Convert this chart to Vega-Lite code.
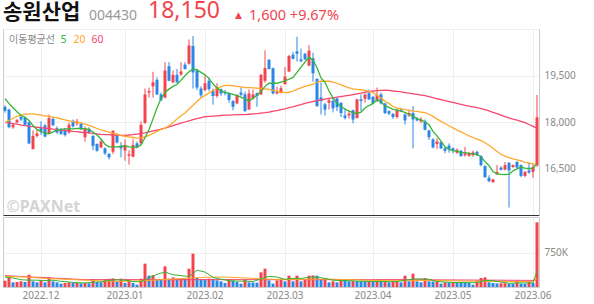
{
"$schema": "https://vega.github.io/schema/vega-lite/v6.json",
"padding": {"left": 1, "top": 0, "right": 0, "bottom": 0},
"background": "white",
"spacing": 0,
"config": {
  "view": {"stroke": null},
  "font": "Noto Sans",
  "title": {"anchor": "start", "offset": 0, "fontWeight": "normal", "baseline": "alphabetic"},
  "axis": {"labelFont": "Noto Sans", "labelColor": "#888888", "labelFontSize": 10, "gridColor": "#eeeeee", "ticks": false, "title": null}
},
"resolve": {"scale": {"color": "independent"}, "legend": {"color": "independent"}},
"datasets": {"p": [
{"d":"2022-11-18","o":18490,"h":18540,"l":18300,"c":18360,"v":140000,"vu":1,"m5":18750,"m20":17980,"m60":17990,"a5":220000,"a20":235000,"a60":250000},
{"d":"2022-11-21","o":18400,"h":18430,"l":17800,"c":17830,"v":213000,"vu":1,"m5":18600,"m20":18050,"m60":17970,"a5":210000,"a20":232000,"a60":246000},
{"d":"2022-11-22","o":17830,"h":17950,"l":17780,"c":17910,"v":103000,"vu":0,"m5":18460,"m20":18120,"m60":17950,"a5":200000,"a20":229000,"a60":241000},
{"d":"2022-11-23","o":17990,"h":18100,"l":17960,"c":18060,"v":110000,"vu":1,"m5":18330,"m20":18180,"m60":17930,"a5":180000,"a20":226000,"a60":237000},
{"d":"2022-11-24","o":18160,"h":18200,"l":18030,"c":18080,"v":125000,"vu":1,"m5":18210,"m20":18220,"m60":17900,"a5":160000,"a20":223000,"a60":232000},
{"d":"2022-11-25","o":18130,"h":18180,"l":17870,"c":17910,"v":110000,"vu":0,"m5":18150,"m20":18250,"m60":17880,"a5":155000,"a20":220000,"a60":228000},
{"d":"2022-11-28","o":17990,"h":18020,"l":17290,"c":17310,"v":272000,"vu":1,"m5":18050,"m20":18260,"m60":17860,"a5":150000,"a20":214000,"a60":224000},
{"d":"2022-11-29","o":17130,"h":17730,"l":17110,"c":17550,"v":125000,"vu":0,"m5":17880,"m20":18260,"m60":17850,"a5":150000,"a20":208000,"a60":219000},
{"d":"2022-11-30","o":17550,"h":17750,"l":17500,"c":17630,"v":103000,"vu":0,"m5":17760,"m20":18240,"m60":17830,"a5":150000,"a20":202000,"a60":215000},
{"d":"2022-12-01","o":17800,"h":18020,"l":17580,"c":17700,"v":140000,"vu":1,"m5":17690,"m20":18220,"m60":17820,"a5":145000,"a20":196000,"a60":211000},
{"d":"2022-12-02","o":17890,"h":17930,"l":17510,"c":17530,"v":103000,"vu":0,"m5":17640,"m20":18200,"m60":17800,"a5":140000,"a20":190000,"a60":206000},
{"d":"2022-12-05","o":17620,"h":18240,"l":17620,"c":18130,"v":213000,"vu":1,"m5":17620,"m20":18180,"m60":17790,"a5":145000,"a20":186000,"a60":202000},
{"d":"2022-12-06","o":18100,"h":18160,"l":17860,"c":17900,"v":125000,"vu":0,"m5":17680,"m20":18160,"m60":17770,"a5":150000,"a20":182000,"a60":197000},
{"d":"2022-12-07","o":17800,"h":17860,"l":17620,"c":17660,"v":103000,"vu":0,"m5":17740,"m20":18130,"m60":17760,"a5":138000,"a20":178000,"a60":193000},
{"d":"2022-12-08","o":17750,"h":17800,"l":17580,"c":17620,"v":74000,"vu":0,"m5":17760,"m20":18100,"m60":17740,"a5":125000,"a20":174000,"a60":189000},
{"d":"2022-12-09","o":17740,"h":17810,"l":17530,"c":17580,"v":88000,"vu":1,"m5":17780,"m20":18070,"m60":17730,"a5":118000,"a20":170000,"a60":184000},
{"d":"2022-12-12","o":17660,"h":17970,"l":17620,"c":17910,"v":103000,"vu":1,"m5":17780,"m20":18040,"m60":17720,"a5":110000,"a20":166000,"a60":180000},
{"d":"2022-12-13","o":18040,"h":18080,"l":17820,"c":17860,"v":88000,"vu":0,"m5":17780,"m20":18010,"m60":17700,"a5":102000,"a20":162000,"a60":175000},
{"d":"2022-12-14","o":17950,"h":18100,"l":17880,"c":18020,"v":95000,"vu":1,"m5":17790,"m20":17990,"m60":17690,"a5":95000,"a20":158000,"a60":171000},
{"d":"2022-12-15","o":17940,"h":17980,"l":17740,"c":17770,"v":81000,"vu":0,"m5":17790,"m20":17970,"m60":17670,"a5":92000,"a20":154000,"a60":166000},
{"d":"2022-12-16","o":17510,"h":17860,"l":17370,"c":17800,"v":88000,"vu":1,"m5":17780,"m20":17930,"m60":17660,"a5":90000,"a20":150000,"a60":162000},
{"d":"2022-12-19","o":17780,"h":17830,"l":17620,"c":17660,"v":81000,"vu":0,"m5":17760,"m20":17890,"m60":17650,"a5":98000,"a20":146000,"a60":162000},
{"d":"2022-12-20","o":17550,"h":17590,"l":17090,"c":17230,"v":176000,"vu":1,"m5":17680,"m20":17840,"m60":17630,"a5":105000,"a20":142000,"a60":162000},
{"d":"2022-12-21","o":17290,"h":17310,"l":17040,"c":17070,"v":110000,"vu":0,"m5":17580,"m20":17790,"m60":17620,"a5":110000,"a20":138000,"a60":162000},
{"d":"2022-12-22","o":17180,"h":17420,"l":17150,"c":17370,"v":103000,"vu":0,"m5":17450,"m20":17750,"m60":17600,"a5":115000,"a20":134000,"a60":162000},
{"d":"2022-12-23","o":17150,"h":17180,"l":16930,"c":16990,"v":170000,"vu":1,"m5":17280,"m20":17710,"m60":17590,"a5":130000,"a20":130000,"a60":162000},
{"d":"2022-12-26","o":16970,"h":17000,"l":16790,"c":16860,"v":180000,"vu":1,"m5":17200,"m20":17670,"m60":17590,"a5":145000,"a20":129000,"a60":162000},
{"d":"2022-12-27","o":17040,"h":17720,"l":16960,"c":17720,"v":190000,"vu":1,"m5":17200,"m20":17630,"m60":17580,"a5":152000,"a20":128000,"a60":162000},
{"d":"2022-12-28","o":17610,"h":17640,"l":17310,"c":17340,"v":125000,"vu":0,"m5":17200,"m20":17600,"m60":17580,"a5":160000,"a20":127000,"a60":162000},
{"d":"2022-12-29","o":17240,"h":17350,"l":16860,"c":17150,"v":184000,"vu":1,"m5":17210,"m20":17560,"m60":17570,"a5":155000,"a20":126000,"a60":162000},
{"d":"2023-01-02","o":17080,"h":17440,"l":16750,"c":17260,"v":88000,"vu":0,"m5":17230,"m20":17540,"m60":17570,"a5":150000,"a20":125000,"a60":162000},
{"d":"2023-01-03","o":16910,"h":17090,"l":16630,"c":16960,"v":162000,"vu":1,"m5":17200,"m20":17520,"m60":17580,"a5":135000,"a20":128000,"a60":162000},
{"d":"2023-01-04","o":16880,"h":17440,"l":16860,"c":17260,"v":88000,"vu":0,"m5":17190,"m20":17500,"m60":17590,"a5":120000,"a20":131000,"a60":162000},
{"d":"2023-01-05","o":17310,"h":17370,"l":17150,"c":17180,"v":51000,"vu":0,"m5":17190,"m20":17480,"m60":17610,"a5":118000,"a20":134000,"a60":162000},
{"d":"2023-01-06","o":17310,"h":18020,"l":17260,"c":17910,"v":184000,"vu":1,"m5":17260,"m20":17490,"m60":17630,"a5":115000,"a20":137000,"a60":162000},
{"d":"2023-01-09","o":17970,"h":19080,"l":17940,"c":18890,"v":515000,"vu":1,"m5":17500,"m20":17520,"m60":17650,"a5":158000,"a20":140000,"a60":162000},
{"d":"2023-01-10","o":18950,"h":19110,"l":18790,"c":19000,"v":250000,"vu":0,"m5":17750,"m20":17570,"m60":17680,"a5":200000,"a20":145000,"a60":162000},
{"d":"2023-01-11","o":19150,"h":19620,"l":18790,"c":19280,"v":260000,"vu":1,"m5":18100,"m20":17630,"m60":17710,"a5":240000,"a20":150000,"a60":162000},
{"d":"2023-01-12","o":19360,"h":19440,"l":18870,"c":18890,"v":162000,"vu":0,"m5":18450,"m20":17700,"m60":17740,"a5":280000,"a20":155000,"a60":162000},
{"d":"2023-01-13","o":18890,"h":18950,"l":18680,"c":18700,"v":155000,"vu":0,"m5":18750,"m20":17760,"m60":17770,"a5":305000,"a20":160000,"a60":162000},
{"d":"2023-01-16","o":18790,"h":19930,"l":18760,"c":19660,"v":456000,"vu":1,"m5":18950,"m20":17800,"m60":17800,"a5":330000,"a20":165000,"a60":162000},
{"d":"2023-01-17","o":19800,"h":19930,"l":19310,"c":19330,"v":184000,"vu":0,"m5":19060,"m20":17880,"m60":17840,"a5":300000,"a20":170000,"a60":162000},
{"d":"2023-01-18","o":19280,"h":19660,"l":19250,"c":19520,"v":213000,"vu":1,"m5":19150,"m20":17980,"m60":17880,"a5":270000,"a20":175000,"a60":162000},
{"d":"2023-01-19","o":19520,"h":19710,"l":19250,"c":19280,"v":184000,"vu":0,"m5":19210,"m20":18100,"m60":17920,"a5":260000,"a20":180000,"a60":162000},
{"d":"2023-01-20","o":19530,"h":19930,"l":19490,"c":19630,"v":190000,"vu":1,"m5":19350,"m20":18200,"m60":17960,"a5":250000,"a20":185000,"a60":162000},
{"d":"2023-01-25","o":19850,"h":19930,"l":19690,"c":19710,"v":184000,"vu":0,"m5":19490,"m20":18290,"m60":18000,"a5":240000,"a20":190000,"a60":162000},
{"d":"2023-01-26","o":19880,"h":20660,"l":19850,"c":20470,"v":404000,"vu":1,"m5":19620,"m20":18420,"m60":18040,"a5":230000,"a20":195000,"a60":162000},
{"d":"2023-01-27","o":20450,"h":20770,"l":19080,"c":19600,"v":735000,"vu":1,"m5":19710,"m20":18540,"m60":18080,"a5":300000,"a20":200000,"a60":162000},
{"d":"2023-01-30","o":19660,"h":19720,"l":19030,"c":19110,"v":199000,"vu":0,"m5":19680,"m20":18660,"m60":18110,"a5":370000,"a20":205000,"a60":162000},
{"d":"2023-01-31","o":19080,"h":19150,"l":18780,"c":18860,"v":176000,"vu":0,"m5":19600,"m20":18780,"m60":18140,"a5":350000,"a20":210000,"a60":162000},
{"d":"2023-02-01","o":19030,"h":19490,"l":18990,"c":19250,"v":170000,"vu":0,"m5":19520,"m20":18860,"m60":18170,"a5":330000,"a20":215000,"a60":162000},
{"d":"2023-02-02","o":19330,"h":19440,"l":19000,"c":19060,"v":185000,"vu":1,"m5":19400,"m20":18940,"m60":18180,"a5":272000,"a20":216000,"a60":162000},
{"d":"2023-02-03","o":19000,"h":19080,"l":18560,"c":18840,"v":180000,"vu":0,"m5":19230,"m20":19010,"m60":18190,"a5":215000,"a20":217000,"a60":162000},
{"d":"2023-02-06","o":18840,"h":19250,"l":18780,"c":19110,"v":147000,"vu":0,"m5":19100,"m20":19080,"m60":18200,"a5":192000,"a20":218000,"a60":162000},
{"d":"2023-02-07","o":19060,"h":19080,"l":18840,"c":18920,"v":125000,"vu":0,"m5":19010,"m20":19140,"m60":18210,"a5":170000,"a20":219000,"a60":162000},
{"d":"2023-02-08","o":18970,"h":19030,"l":18860,"c":18920,"v":88000,"vu":0,"m5":18960,"m20":19180,"m60":18220,"a5":155000,"a20":220000,"a60":162000},
{"d":"2023-02-09","o":18920,"h":18960,"l":18620,"c":18710,"v":176000,"vu":1,"m5":18920,"m20":19180,"m60":18225,"a5":140000,"a20":216000,"a60":162000},
{"d":"2023-02-10","o":18680,"h":18700,"l":18380,"c":18490,"v":140000,"vu":0,"m5":18890,"m20":19170,"m60":18230,"a5":135000,"a20":212000,"a60":162000},
{"d":"2023-02-13","o":18600,"h":18900,"l":18570,"c":18870,"v":110000,"vu":0,"m5":18850,"m20":19150,"m60":18235,"a5":130000,"a20":208000,"a60":162000},
{"d":"2023-02-14","o":18950,"h":19110,"l":18840,"c":18880,"v":74000,"vu":0,"m5":18800,"m20":19130,"m60":18240,"a5":130000,"a20":204000,"a60":162000},
{"d":"2023-02-15","o":18890,"h":18980,"l":18330,"c":18350,"v":162000,"vu":1,"m5":18740,"m20":19110,"m60":18240,"a5":130000,"a20":200000,"a60":162000},
{"d":"2023-02-16","o":18400,"h":19050,"l":18400,"c":18920,"v":103000,"vu":0,"m5":18680,"m20":19110,"m60":18250,"a5":125000,"a20":195000,"a60":162000},
{"d":"2023-02-17","o":18760,"h":19050,"l":18730,"c":18890,"v":100000,"vu":0,"m5":18760,"m20":19100,"m60":18260,"a5":120000,"a20":190000,"a60":162000},
{"d":"2023-02-20","o":18930,"h":18950,"l":18490,"c":18840,"v":95000,"vu":0,"m5":18860,"m20":19090,"m60":18270,"a5":150000,"a20":185000,"a60":162000},
{"d":"2023-02-21","o":18890,"h":19550,"l":18870,"c":19520,"v":324000,"vu":1,"m5":18990,"m20":19080,"m60":18285,"a5":180000,"a20":180000,"a60":162000},
{"d":"2023-02-22","o":19330,"h":20310,"l":19270,"c":19740,"v":404000,"vu":1,"m5":19150,"m20":19070,"m60":18300,"a5":208000,"a20":175000,"a60":162000},
{"d":"2023-02-23","o":20010,"h":20020,"l":19690,"c":19710,"v":147000,"vu":0,"m5":19250,"m20":19050,"m60":18320,"a5":235000,"a20":173000,"a60":162000},
{"d":"2023-02-24","o":19730,"h":19760,"l":18890,"c":18920,"v":74000,"vu":0,"m5":19250,"m20":19020,"m60":18350,"a5":228000,"a20":171000,"a60":162000},
{"d":"2023-02-27","o":18920,"h":19140,"l":18890,"c":18980,"v":147000,"vu":1,"m5":19250,"m20":18990,"m60":18370,"a5":220000,"a20":169000,"a60":162000},
{"d":"2023-02-28","o":18950,"h":19170,"l":18920,"c":19090,"v":184000,"vu":1,"m5":19290,"m20":18960,"m60":18400,"a5":195000,"a20":167000,"a60":162000},
{"d":"2023-03-02","o":19220,"h":19770,"l":19200,"c":19460,"v":125000,"vu":0,"m5":19330,"m20":18950,"m60":18420,"a5":170000,"a20":165000,"a60":162000},
{"d":"2023-03-03","o":19630,"h":20170,"l":19610,"c":20130,"v":250000,"vu":1,"m5":19380,"m20":18960,"m60":18460,"a5":180000,"a20":166000,"a60":162000},
{"d":"2023-03-06","o":20170,"h":20260,"l":20020,"c":20040,"v":125000,"vu":0,"m5":19440,"m20":19000,"m60":18490,"a5":190000,"a20":167000,"a60":162000},
{"d":"2023-03-07","o":20280,"h":20750,"l":19950,"c":20200,"v":250000,"vu":1,"m5":19600,"m20":19050,"m60":18530,"a5":190000,"a20":168000,"a60":162000},
{"d":"2023-03-08","o":20020,"h":20370,"l":19930,"c":19960,"v":125000,"vu":0,"m5":19770,"m20":19100,"m60":18560,"a5":190000,"a20":169000,"a60":162000},
{"d":"2023-03-09","o":20200,"h":20230,"l":19990,"c":20020,"v":176000,"vu":1,"m5":19930,"m20":19150,"m60":18600,"a5":202000,"a20":170000,"a60":162000},
{"d":"2023-03-10","o":19820,"h":20480,"l":19800,"c":20300,"v":250000,"vu":1,"m5":20090,"m20":19180,"m60":18630,"a5":215000,"a20":171000,"a60":162000},
{"d":"2023-03-13","o":20060,"h":20230,"l":19300,"c":19570,"v":255000,"vu":1,"m5":20000,"m20":19210,"m60":18660,"a5":218000,"a20":172000,"a60":162000},
{"d":"2023-03-14","o":19390,"h":19410,"l":18490,"c":18510,"v":250000,"vu":0,"m5":19750,"m20":19290,"m60":18690,"a5":220000,"a20":173000,"a60":162000},
{"d":"2023-03-15","o":18790,"h":19280,"l":18240,"c":18680,"v":176000,"vu":0,"m5":19420,"m20":19315,"m60":18710,"a5":205000,"a20":174000,"a60":162000},
{"d":"2023-03-16","o":18570,"h":18620,"l":18210,"c":18400,"v":180000,"vu":1,"m5":19280,"m20":19320,"m60":18740,"a5":190000,"a20":175000,"a60":162000},
{"d":"2023-03-17","o":18620,"h":18780,"l":18400,"c":18700,"v":103000,"vu":0,"m5":19000,"m20":19315,"m60":18760,"a5":170000,"a20":173000,"a60":162000},
{"d":"2023-03-20","o":18680,"h":18780,"l":18310,"c":18440,"v":125000,"vu":1,"m5":18780,"m20":19290,"m60":18780,"a5":150000,"a20":171000,"a60":162000},
{"d":"2023-03-21","o":18760,"h":18780,"l":18350,"c":18480,"v":103000,"vu":0,"m5":18600,"m20":19250,"m60":18800,"a5":145000,"a20":169000,"a60":162000},
{"d":"2023-03-22","o":18620,"h":18640,"l":18160,"c":18290,"v":162000,"vu":1,"m5":18500,"m20":19200,"m60":18820,"a5":140000,"a20":167000,"a60":162000},
{"d":"2023-03-23","o":18210,"h":18440,"l":18080,"c":18130,"v":155000,"vu":0,"m5":18420,"m20":19150,"m60":18840,"a5":140000,"a20":165000,"a60":162000},
{"d":"2023-03-24","o":18210,"h":18370,"l":18110,"c":18270,"v":125000,"vu":0,"m5":18350,"m20":19100,"m60":18860,"a5":140000,"a20":162000,"a60":162000},
{"d":"2023-03-27","o":18380,"h":18400,"l":17960,"c":18080,"v":130000,"vu":1,"m5":18300,"m20":19070,"m60":18880,"a5":134000,"a20":159000,"a60":162000},
{"d":"2023-03-28","o":18130,"h":18750,"l":18110,"c":18730,"v":128000,"vu":0,"m5":18270,"m20":19050,"m60":18910,"a5":128000,"a20":156000,"a60":162000},
{"d":"2023-03-29","o":18730,"h":18890,"l":18360,"c":18680,"v":125000,"vu":0,"m5":18320,"m20":19040,"m60":18930,"a5":126000,"a20":153000,"a60":162000},
{"d":"2023-03-30","o":18750,"h":18920,"l":18620,"c":18890,"v":122000,"vu":0,"m5":18450,"m20":19020,"m60":18960,"a5":125000,"a20":150000,"a60":162000},
{"d":"2023-03-31","o":18930,"h":19050,"l":18710,"c":18730,"v":125000,"vu":1,"m5":18530,"m20":18990,"m60":18980,"a5":124000,"a20":148000,"a60":162000},
{"d":"2023-04-03","o":18810,"h":18840,"l":18570,"c":18600,"v":120000,"vu":0,"m5":18600,"m20":18950,"m60":19000,"a5":122000,"a20":146000,"a60":162000},
{"d":"2023-04-04","o":18680,"h":19110,"l":18640,"c":18870,"v":125000,"vu":1,"m5":18720,"m20":18860,"m60":19010,"a5":122000,"a20":144000,"a60":162000},
{"d":"2023-04-05","o":18890,"h":18950,"l":18570,"c":18600,"v":118000,"vu":0,"m5":18650,"m20":18770,"m60":19020,"a5":122000,"a20":142000,"a60":162000},
{"d":"2023-04-06","o":18600,"h":18620,"l":18260,"c":18290,"v":125000,"vu":1,"m5":18520,"m20":18670,"m60":19030,"a5":120000,"a20":140000,"a60":162000},
{"d":"2023-04-07","o":18350,"h":18380,"l":18220,"c":18270,"v":103000,"vu":0,"m5":18470,"m20":18600,"m60":19020,"a5":118000,"a20":140000,"a60":162000},
{"d":"2023-04-10","o":18260,"h":18290,"l":18100,"c":18160,"v":125000,"vu":1,"m5":18410,"m20":18500,"m60":19000,"a5":119000,"a20":140000,"a60":162000},
{"d":"2023-04-11","o":18160,"h":18430,"l":18110,"c":18380,"v":130000,"vu":1,"m5":18380,"m20":18450,"m60":18990,"a5":120000,"a20":140000,"a60":162000},
{"d":"2023-04-12","o":18400,"h":18460,"l":18330,"c":18350,"v":103000,"vu":0,"m5":18350,"m20":18420,"m60":18970,"a5":135000,"a20":140000,"a60":162000},
{"d":"2023-04-13","o":18240,"h":18290,"l":17920,"c":18050,"v":250000,"vu":1,"m5":18310,"m20":18400,"m60":18950,"a5":150000,"a20":140000,"a60":162000},
{"d":"2023-04-14","o":18210,"h":18370,"l":18160,"c":18290,"v":125000,"vu":0,"m5":18250,"m20":18380,"m60":18930,"a5":162000,"a20":141000,"a60":161000},
{"d":"2023-04-17","o":18290,"h":18510,"l":17150,"c":18080,"v":294000,"vu":1,"m5":18190,"m20":18350,"m60":18910,"a5":175000,"a20":142000,"a60":161000},
{"d":"2023-04-18","o":18100,"h":18160,"l":18020,"c":18050,"v":125000,"vu":0,"m5":18110,"m20":18340,"m60":18890,"a5":178000,"a20":143000,"a60":160000},
{"d":"2023-04-19","o":18020,"h":18160,"l":17960,"c":18080,"v":103000,"vu":0,"m5":18070,"m20":18320,"m60":18870,"a5":180000,"a20":144000,"a60":160000},
{"d":"2023-04-20","o":18020,"h":18080,"l":17730,"c":17750,"v":199000,"vu":1,"m5":18000,"m20":18300,"m60":18850,"a5":175000,"a20":145000,"a60":159000},
{"d":"2023-04-21","o":17730,"h":17750,"l":17420,"c":17510,"v":125000,"vu":0,"m5":17910,"m20":18250,"m60":18820,"a5":170000,"a20":144000,"a60":159000},
{"d":"2023-04-24","o":17440,"h":17480,"l":17150,"c":17180,"v":120000,"vu":0,"m5":17700,"m20":18180,"m60":18790,"a5":145000,"a20":143000,"a60":158000},
{"d":"2023-04-25","o":17290,"h":17480,"l":17130,"c":17370,"v":125000,"vu":1,"m5":17550,"m20":18100,"m60":18750,"a5":120000,"a20":142000,"a60":158000},
{"d":"2023-04-26","o":17350,"h":17370,"l":17130,"c":17150,"v":74000,"vu":0,"m5":17380,"m20":18020,"m60":18720,"a5":115000,"a20":141000,"a60":157000},
{"d":"2023-04-27","o":17150,"h":17200,"l":16990,"c":17070,"v":103000,"vu":1,"m5":17200,"m20":17950,"m60":18690,"a5":110000,"a20":140000,"a60":157000},
{"d":"2023-04-28","o":17240,"h":17310,"l":17010,"c":17130,"v":100000,"vu":0,"m5":17120,"m20":17880,"m60":18660,"a5":105000,"a20":138000,"a60":156000},
{"d":"2023-05-02","o":17150,"h":17180,"l":16990,"c":17070,"v":105000,"vu":1,"m5":17080,"m20":17810,"m60":18630,"a5":100000,"a20":136000,"a60":156000},
{"d":"2023-05-03","o":17010,"h":17150,"l":16970,"c":17100,"v":100000,"vu":0,"m5":17050,"m20":17740,"m60":18600,"a5":100000,"a20":134000,"a60":155000},
{"d":"2023-05-04","o":17070,"h":17100,"l":16880,"c":16900,"v":98000,"vu":0,"m5":17020,"m20":17680,"m60":18570,"a5":100000,"a20":132000,"a60":155000},
{"d":"2023-05-08","o":16930,"h":17200,"l":16880,"c":16990,"v":96000,"vu":0,"m5":17010,"m20":17620,"m60":18540,"a5":98000,"a20":130000,"a60":154000},
{"d":"2023-05-09","o":16910,"h":17040,"l":16880,"c":16990,"v":88000,"vu":0,"m5":16990,"m20":17550,"m60":18510,"a5":95000,"a20":129000,"a60":154000},
{"d":"2023-05-10","o":16930,"h":17080,"l":16880,"c":17020,"v":51000,"vu":0,"m5":16970,"m20":17500,"m60":18490,"a5":95000,"a20":128000,"a60":153000},
{"d":"2023-05-11","o":17040,"h":17070,"l":16900,"c":16930,"v":140000,"vu":1,"m5":16950,"m20":17450,"m60":18460,"a5":95000,"a20":127000,"a60":153000},
{"d":"2023-05-12","o":16900,"h":16930,"l":16570,"c":16610,"v":199000,"vu":1,"m5":16880,"m20":17400,"m60":18430,"a5":118000,"a20":126000,"a60":152000},
{"d":"2023-05-15","o":16580,"h":16600,"l":16200,"c":16220,"v":213000,"vu":1,"m5":16720,"m20":17330,"m60":18400,"a5":140000,"a20":125000,"a60":152000},
{"d":"2023-05-16","o":16200,"h":16280,"l":16060,"c":16090,"v":103000,"vu":0,"m5":16600,"m20":17250,"m60":18360,"a5":140000,"a20":124000,"a60":151000},
{"d":"2023-05-17","o":16060,"h":16170,"l":16040,"c":16150,"v":88000,"vu":0,"m5":16400,"m20":17150,"m60":18310,"a5":140000,"a20":123000,"a60":151000},
{"d":"2023-05-18","o":16310,"h":16610,"l":16310,"c":16390,"v":80000,"vu":0,"m5":16330,"m20":17050,"m60":18270,"a5":125000,"a20":122000,"a60":150000},
{"d":"2023-05-19","o":16530,"h":16570,"l":16440,"c":16460,"v":82000,"vu":1,"m5":16310,"m20":16960,"m60":18220,"a5":110000,"a20":121000,"a60":150000},
{"d":"2023-05-22","o":16470,"h":16710,"l":16440,"c":16610,"v":84000,"vu":1,"m5":16300,"m20":16900,"m60":18170,"a5":96000,"a20":120000,"a60":149000},
{"d":"2023-05-23","o":16680,"h":16710,"l":15240,"c":16440,"v":74000,"vu":0,"m5":16320,"m20":16850,"m60":18130,"a5":82000,"a20":120000,"a60":149000},
{"d":"2023-05-24","o":16550,"h":16630,"l":16520,"c":16610,"v":72000,"vu":0,"m5":16420,"m20":16810,"m60":18090,"a5":86000,"a20":120000,"a60":148000},
{"d":"2023-05-25","o":16710,"h":16740,"l":16510,"c":16530,"v":140000,"vu":1,"m5":16490,"m20":16780,"m60":18060,"a5":90000,"a20":120000,"a60":148000},
{"d":"2023-05-26","o":16610,"h":16630,"l":16220,"c":16260,"v":74000,"vu":0,"m5":16540,"m20":16750,"m60":18020,"a5":90000,"a20":120000,"a60":147000},
{"d":"2023-05-30","o":16260,"h":16420,"l":16220,"c":16390,"v":72000,"vu":0,"m5":16510,"m20":16700,"m60":17980,"a5":90000,"a20":120000,"a60":147000},
{"d":"2023-05-31","o":16440,"h":16700,"l":16330,"c":16370,"v":118000,"vu":1,"m5":16500,"m20":16670,"m60":17920,"a5":90000,"a20":120000,"a60":146000},
{"d":"2023-06-01","o":16390,"h":16640,"l":16200,"c":16550,"v":88000,"vu":0,"m5":16510,"m20":16650,"m60":17860,"a5":90000,"a20":120000,"a60":146000},
{"d":"2023-06-02","o":16600,"h":18870,"l":16550,"c":18150,"v":1426000,"vu":1,"m5":16660,"m20":16640,"m60":17800,"a5":356000,"a20":190000,"a60":168000}
]},
"vconcat": [
  {
    "hconcat": [
      {
        "hconcat": [
          {"title": {"text": "송원산업", "font": "Noto Sans CJK KR", "fontSize": 21, "fontWeight": "bold", "color": "#111111", "dy": 17}, "width": 1, "height": 18, "data": {"values": []}, "mark": "text"},
          {"title": {"text": "004430", "font": "Noto Sans", "fontSize": 14, "color": "#999999", "dy": 17}, "width": 1, "height": 18, "data": {"values": []}, "mark": "text"}
        ],
        "spacing": 8
      },
      {
        "hconcat": [
          {"title": {"text": "18,150", "font": "Noto Sans", "fontSize": 23, "color": "#f2444e", "dy": 17}, "width": 1, "height": 18, "data": {"values": []}, "mark": "text"},
          {
            "hconcat": [
              {"title": {"text": "▲", "font": "DejaVu Sans", "fontSize": 9, "color": "#f2444e", "dy": 14}, "width": 1, "height": 18, "data": {"values": []}, "mark": "text"},
              {"title": {"text": "1,600 +9.67%", "font": "Noto Sans", "fontSize": 14.5, "color": "#f2444e", "dy": 17}, "width": 1, "height": 18, "data": {"values": []}, "mark": "text"}
            ],
            "spacing": 7
          }
        ],
        "spacing": 15
      }
    ],
    "spacing": 10
  },
  {
    "width": 536,
    "height": 186,
    "view": {"stroke": "#cccccc"},
    "data": {"name": "p"},
    "encoding": {
      "x": {"field": "d", "type": "ordinal", "scale": {"paddingInner": 0.25, "paddingOuter": 0.125},
        "axis": {"orient": "bottom", "values": ["2022-12-01","2023-01-02","2023-02-01","2023-03-02","2023-04-03","2023-05-02","2023-06-01"], "labels": false, "ticks": false, "grid": true, "domain": true, "domainColor": "#333333", "domainWidth": 1.2,
          "title": "©PAXNet", "titleFont": "Noto Sans", "titleFontSize": 16, "titleFontWeight": "bold", "titleColor": "#d4d4d4", "titleAnchor": "start", "titleAlign": "left", "titleBaseline": "alphabetic", "titleX": 3, "titleY": -4}}
    },
    "layer": [
      {
        "mark": {"type": "rule", "strokeWidth": 1},
        "encoding": {
          "y": {"field": "l", "type": "quantitative", "scale": {"domain": [15000, 21000], "nice": false, "zero": false},
            "axis": {"orient": "right", "values": [15000, 16500, 18000, 19500, 21000], "labelExpr": "datum.value == 15000 || datum.value == 21000 ? '' : format(datum.value, ',')", "grid": true, "domain": true, "domainColor": "#cccccc", "labelPadding": 5, "title": null}},
          "y2": {"field": "h"},
          "color": {"condition": {"test": "datum.c >= datum.o", "value": "#f2444e"}, "value": "#2b87e6"}
        }
      },
      {
        "mark": {"type": "bar"},
        "encoding": {
          "y": {"field": "o", "type": "quantitative"},
          "y2": {"field": "c"},
          "color": {"condition": {"test": "datum.c >= datum.o", "value": "#f2444e"}, "value": "#2b87e6"}
        }
      },
      {
        "transform": [{"fold": ["m60", "m20", "m5"], "as": ["ma", "val"]}],
        "mark": {"type": "line", "strokeWidth": 1.3},
        "encoding": {
          "y": {"field": "val", "type": "quantitative"},
          "color": {"field": "ma", "type": "nominal",
            "scale": {"domain": ["m5", "m20", "m60"], "range": ["#35b535", "#ffa82b", "#f5486e"]},
            "legend": {"orient": "top-left", "offset": 6, "direction": "horizontal", "title": "이동평균선", "titleOrient": "left",
              "titleFont": "Noto Sans CJK KR", "titleFontSize": 10, "titleFontWeight": "normal", "titleColor": "#888888", "titlePadding": 7,
              "symbolType": "circle", "symbolSize": 0, "symbolOpacity": 0, "symbolStrokeWidth": 0, "labelOffset": -12, "columnPadding": 5, "padding": 0,
              "labelFont": "Noto Sans", "labelFontSize": 10.5, "labelExpr": "replace(datum.label, 'm', '')",
              "encode": {"labels": {"update": {"fill": {"signal": "datum.value == 'm5' ? '#35b535' : datum.value == 'm20' ? '#ffa82b' : '#f5486e'"}}}}}
          }
        }
      }
    ]
  },
  {
    "width": 536,
    "height": 70,
    "view": {"stroke": "#cccccc"},
    "data": {"name": "p"},
    "encoding": {
      "x": {"field": "d", "type": "ordinal", "scale": {"paddingInner": 0.25, "paddingOuter": 0.125},
        "axis": {"orient": "bottom", "values": ["2022-12-01","2023-01-02","2023-02-01","2023-03-02","2023-04-03","2023-05-02","2023-06-01"], "labelExpr": "replace(substring(datum.value, 0, 7), '-', '.')", "labelAngle": 0, "labelPadding": 3, "ticks": false, "grid": true, "domain": false, "title": null}}
    },
    "layer": [
      {
        "mark": {"type": "bar"},
        "encoding": {
          "y": {"field": "v", "type": "quantitative", "scale": {"domain": [0, 1544000], "nice": false},
            "axis": {"orient": "right", "values": [750000], "labelExpr": "'750K'", "grid": true, "domain": true, "domainColor": "#cccccc", "labelPadding": 5, "title": null}},
          "color": {"condition": {"test": "datum.vu == 1", "value": "#f2444e"}, "value": "#2b87e6"}
        }
      },
      {"mark": {"type": "line", "strokeWidth": 1, "color": "#f5486e"}, "encoding": {"y": {"field": "a60", "type": "quantitative"}}},
      {"mark": {"type": "line", "strokeWidth": 1, "color": "#ffa82b"}, "encoding": {"y": {"field": "a20", "type": "quantitative"}}},
      {"mark": {"type": "line", "strokeWidth": 1, "color": "#35b535"}, "encoding": {"y": {"field": "a5", "type": "quantitative"}}}
    ]
  }
]
}
